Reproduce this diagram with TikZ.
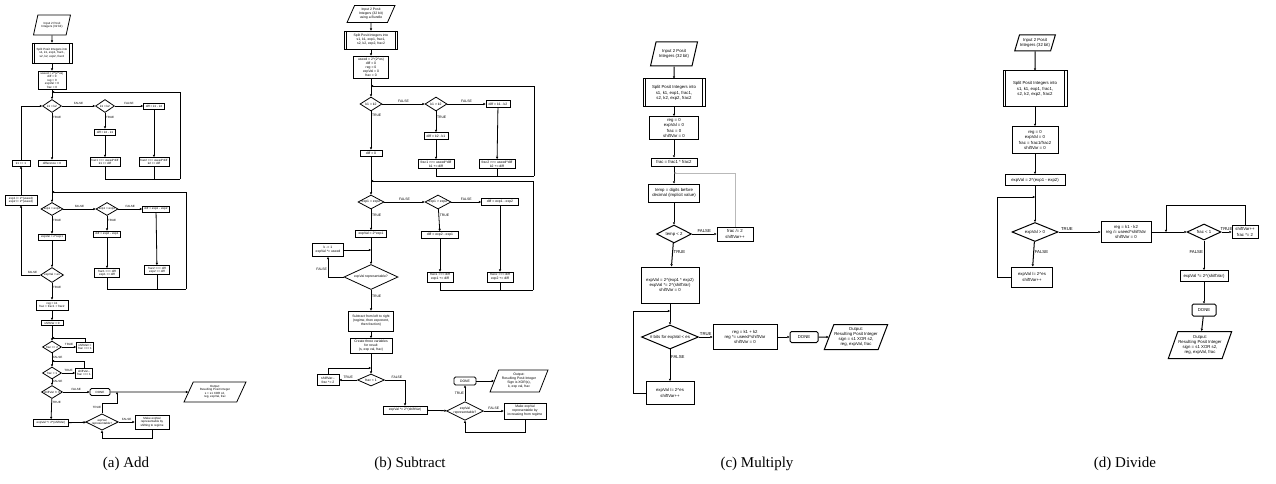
\documentclass[tikz,border=0pt]{standalone}
\usepackage{fontspec}
\setmainfont{Liberation Serif}
\newfontfamily\flowfont{Liberation Sans}[Ligatures=TeXOff]
\usetikzlibrary{
  shapes.geometric,
  arrows.meta,
  positioning
}
\newcommand{\pw}{\textasciicircum}
\tikzset{
  line/.style={draw},
  flow/.style={draw, -{Triangle[length=2.2pt,width=2.2pt]}},
  procbox/.style={draw, rectangle, align=center, inner sep=0.5pt},
  splitbox/.style={procbox, path picture={
      \draw ([xshift=2.2pt]path picture bounding box.north west) -- ([xshift=2.2pt]path picture bounding box.south west)
            ([xshift=-2.2pt]path picture bounding box.north east) -- ([xshift=-2.2pt]path picture bounding box.south east);}},
  decision/.style={draw, diamond, aspect=2, align=center, inner sep=0pt},
  iobox/.style={draw, trapezium, trapezium left angle=65, trapezium right angle=115,
    trapezium stretches=true, align=center, inner sep=0.5pt},
  donebox/.style={draw, rectangle, rounded corners=1.5pt, align=center, inner sep=0.5pt},
  tag/.style={inner sep=0.6pt},
  caption/.style={font=\fontsize{15}{18}\selectfont}
}

\begin{document}
\begin{tikzpicture}[x=1pt, y=-1pt]
\useasboundingbox (0,0) rectangle (1276,484);

% ---------------- Add ----------------
\begin{scope}[font=\flowfont\fontsize{3}{3.5}\selectfont, line width=0.8pt]
  \node[iobox, minimum width=37, minimum height=20] (aIn) at (52,25) {Input 2 Posit\\Integers (32 bit)};
  \node[splitbox, minimum width=40, minimum height=20] (aSplit) at (52,53) {Split Posit Integers into\\s1, k1, exp1, frac1,\\s2, k2, exp2, frac2};
  \node[procbox, minimum width=28, minimum height=18] (aInit) at (52,80) {useed = 2\pw(2\pw es)\\diff = 0\\reg = 0\\expVal = 0\\frac = 0};
  \coordinate (aM1) at (52,92);
  \node[decision, minimum width=19, minimum height=13] (aD1) at (52,106) {k1 = k2};
  \node[decision, minimum width=19, minimum height=13] (aD2) at (105,106) {k1 < k2};
  \node[procbox, minimum width=21, minimum height=6] (aB1) at (154,106) {diff = k1 - k2};
  \node[procbox, minimum width=21, minimum height=6] (aB2) at (105,132) {diff = k2 - k1};
  \node[procbox, minimum width=30, minimum height=9] (aB3) at (105,162) {frac1 >>= useed\pw diff\\k1 += diff};
  \node[procbox, minimum width=30, minimum height=9] (aB4) at (154,162) {frac2 >>= useed\pw diff\\k2 += diff};
  \node[procbox, minimum width=28, minimum height=6] (aB5) at (52,163) {difference = 0};
  \node[procbox, minimum width=18, minimum height=6] (aB6) at (21,163) {k1 += 1};
  \node[procbox, minimum width=32, minimum height=10] (aB12) at (21,200) {exp1 /= 2\pw(useed)\\exp2 /= 2\pw(useed)};
  \coordinate (aR1) at (180,179);

  \coordinate (aM2) at (52,192);
  \node[decision, minimum width=22, minimum height=13] (aD3) at (52,209) {exp1 = exp2};
  \node[decision, minimum width=22, minimum height=13] (aD4) at (107,209) {exp1 < exp2};
  \node[procbox, minimum width=27, minimum height=6] (aB7) at (156,209) {diff = exp1 - exp2};
  \node[procbox, minimum width=27, minimum height=6] (aB8) at (107,234) {diff = exp2 - exp1};
  \node[procbox, minimum width=25, minimum height=9] (aB9) at (107,273) {frac1 >>= diff\\exp1 += diff};
  \node[procbox, minimum width=25, minimum height=9] (aB10) at (157,270) {frac2 >>= diff\\exp2 += diff};
  \node[procbox, minimum width=27, minimum height=6] (aB11) at (52,237) {expVal = 2\pw exp1};
  \node[decision, minimum width=23, minimum height=15] (aD5) at (52,275) {expVal < es};
  \coordinate (aR2) at (186,289);

  \node[procbox, minimum width=32, minimum height=10] (aB13) at (52,305) {reg = k1\\frac = frac1 + frac2};
  \node[procbox, minimum width=22, minimum height=5] (aB14) at (52,323) {shiftVar = 0};
  \coordinate (aM3) at (52,338);
  \node[decision, minimum width=19, minimum height=12] (aD6) at (52,347) {frac >= 2};
  \node[procbox, minimum width=17, minimum height=10] (aB15) at (85,347) {shiftVar++\\frac >>= 1};
  \coordinate (aM4) at (52,361);
  \node[decision, minimum width=19, minimum height=12] (aD7) at (52,373) {frac < 1};
  \node[procbox, minimum width=17, minimum height=10] (aB16) at (84,373) {shiftVar--\\frac <<= 1};
  \node[decision, minimum width=21, minimum height=13] (aD8) at (52,392) {shiftVar != 0};
  \node[donebox, minimum width=20, minimum height=7] (aDone) at (100,392) {DONE};
  \node[iobox, minimum width=62, minimum height=20] (aOut) at (215,392) {Output:\\Resulting Posit Integer\\s = s1 XOR s2,\\reg, expVal, frac};
  \node[procbox, minimum width=35, minimum height=7] (aB17) at (51,423) {expVal *= 2\pw (shiftVar)};
  \node[decision, minimum width=28, minimum height=16] (aD9) at (102,422) {expVal\\representable?};
  \node[procbox, minimum width=34, minimum height=14] (aB18) at (152,422) {Make expVal\\representable by\\shifting to regime};
  \coordinate (aJ) at (117,392);
  \coordinate (aT) at (117,403);
  \coordinate (aL) at (102,438);

  \draw[flow] (aIn) -- (aSplit);
  \draw[flow] (aSplit) -- (aInit);
  \draw[flow] (aInit) -- (aD1);
  \draw[flow] (aD1) -- node[tag, above] {FALSE} (aD2);
  \draw[flow] (aD2) -- node[tag, above] {FALSE} (aB1);
  \draw[flow] (aD2) -- node[tag, right, pos=0.3] {TRUE} (aB2);
  \draw[flow] (aB2) -- (aB3);
  \draw[flow] (aB1) -- (aB4);
  \draw[flow] (aD1) -- node[tag, right, pos=0.1] {TRUE} (aB5);
  \draw[line] (aB3.south) |- (aR1);
  \draw[line] (aB4.south) -- (aB4.south |- aR1);
  \draw[flow] (aR1) |- (aM1);
  \draw[flow] (aB5) -- (aD3);
  \draw[flow] (aD3) -- node[tag, above] {FALSE} (aD4);
  \draw[flow] (aD4) -- node[tag, above] {FALSE} (aB7);
  \draw[flow] (aD4) -- node[tag, right, pos=0.3] {TRUE} (aB8);
  \draw[flow] (aB8) -- (aB9);
  \draw[flow] (aB7) -- (aB10);
  \draw[line] (aB9.south) |- (aR2);
  \draw[line] (aB10.south) -- (aB10.south |- aR2);
  \draw[flow] (aR2) |- (aM2);
  \draw[flow] (aD3) -- node[tag, right, pos=0.25] {TRUE} (aB11);
  \draw[flow] (aB11) -- (aD5);
  \draw[flow] (aD5.west) -| node[tag, above, pos=0.2] {FALSE} (aB12.south);
  \draw[flow] (aB12) -- (aB6);
  \draw[flow] (aB6.north) |- (aD1.west);
  \draw[flow] (aD5) -- node[tag, right, pos=0.3] {TRUE} (aB13);
  \draw[flow] (aB13) -- (aB14);
  \draw[flow] (aB14) -- (aD6);
  \draw[flow] (aD6) -- node[tag, above] {TRUE} (aB15);
  \draw[flow] (aB15.north) |- (aM3);
  \draw[flow] (aD6) -- node[tag, right, pos=0.3] {FALSE} (aD7);
  \draw[flow] (aD7) -- node[tag, above] {TRUE} (aB16);
  \draw[flow] (aB16.north) |- (aM4);
  \draw[flow] (aD7) -- node[tag, right, pos=0.3] {FALSE} (aD8);
  \draw[flow] (aD8) -- node[tag, above] {FALSE} (aDone);
  \draw[flow] (aDone) -- (aOut);
  \draw[flow] (aD8) -- node[tag, right, pos=0.2] {TRUE} (aB17);
  \draw[flow] (aB17) -- (aD9);
  \draw[flow] (aD9) -- node[tag, above] {FALSE} (aB18);
  \draw[flow] (aB18.south) |- (aL) -- (aD9.south);
  \draw[flow] (aD9.north) |- node[tag, left, pos=0.3] {TRUE} (aT) -- (aJ);
\end{scope}

% ---------------- Subtract ----------------
\begin{scope}[font=\flowfont\fontsize{3.4}{4}\selectfont, line width=0.8pt]
  \node[iobox, minimum width=48, minimum height=17] (bIn) at (371,14) {Input 2 Posit\\Integers (32 bit)\\using a Bundle};
  \node[splitbox, minimum width=53, minimum height=18] (bSplit) at (371,40) {Split Posit Integers into\\s1, k1, exp1, frac1,\\s2, k2, exp2, frac2};
  \node[procbox, minimum width=35, minimum height=22] (bInit) at (371,67) {useed = 2\pw(2\pw es)\\diff = 0\\reg = 0\\expVal = 0\\frac = 0};
  \coordinate (bM1) at (371,86);
  \node[decision, minimum width=22, minimum height=14] (bD1) at (371,104) {k1 = k2};
  \node[decision, minimum width=22, minimum height=14] (bD2) at (436,104) {k1 > k2};
  \node[procbox, minimum width=24, minimum height=7] (bB1) at (498,104) {diff = k1 - k2};
  \node[procbox, minimum width=24, minimum height=7] (bB2) at (436,136) {diff = k2 - k1};
  \node[procbox, minimum width=36, minimum height=9] (bB3) at (436,164) {frac1 >>= useed\pw diff\\k1 += diff};
  \node[procbox, minimum width=36, minimum height=9] (bB4) at (497,164) {frac2 >>= useed\pw diff\\k2 += diff};
  \node[procbox, minimum width=22, minimum height=6] (bB5) at (371,153) {diff = 0};
  \coordinate (bR1) at (534,176);

  \coordinate (bM2) at (371,181);
  \node[decision, minimum width=26, minimum height=14] (bD3) at (371,202) {exp1 = exp2};
  \node[decision, minimum width=26, minimum height=14] (bD4) at (438,202) {exp1 > exp2};
  \node[procbox, minimum width=37, minimum height=7] (bB6) at (500,202) {diff = exp1 - exp2};
  \node[procbox, minimum width=37, minimum height=7] (bB7) at (440,235) {diff = exp2 - exp1};
  \node[procbox, minimum width=26, minimum height=10] (bB8) at (440,277) {frac1 >>= diff\\exp1 += diff};
  \node[procbox, minimum width=26, minimum height=10] (bB9) at (500,277) {frac2 >>= diff\\exp2 += diff};
  \coordinate (bR2) at (533,290);

  \node[procbox, minimum width=31, minimum height=7] (bB10) at (371,234) {expVal = 2\pw exp1};
  \coordinate (bM3) at (371,250);
  \node[procbox, minimum width=31, minimum height=13] (bB11) at (328,250) {k -= 1\\expVal *= useed};
  \node[decision, minimum width=54, minimum height=25] (bD5) at (371,277) {expVal representable?};
  \node[procbox, minimum width=45, minimum height=20] (bB12) at (371,321) {Subtract from left to right\\(regime, then exponent,\\then fraction)};
  \node[procbox, minimum width=42, minimum height=15] (bB13) at (371,346) {Create three variables\\for result\\(s, exp val, frac)};
  \coordinate (bM4) at (371,368);
  \node[decision, minimum width=27, minimum height=12] (bD6) at (371,380) {frac < 1};
  \node[procbox, minimum width=22, minimum height=11] (bB14) at (328,380) {shiftVar--\\frac *= 2};
  \node[procbox, minimum width=44, minimum height=8] (bB15) at (405,410) {expVal *= 2\pw (shiftVar)};
  \node[decision, minimum width=32, minimum height=17] (bD7) at (465,411) {expVal\\representable?};
  \node[procbox, minimum width=42, minimum height=16] (bB16) at (525,411) {Make expVal\\representable by\\increasing from regime};
  \node[donebox, minimum width=22, minimum height=8] (bDone) at (465,381) {DONE};
  \node[iobox, minimum width=58, minimum height=22] (bOut) at (519,381) {Output:\\Resulting Posit Integer\\Sign is XOR(s),\\k, exp val, frac};
  \coordinate (bL) at (465,432);

  \draw[flow] (bIn) -- (bSplit);
  \draw[flow] (bSplit) -- (bInit);
  \draw[flow] (bInit) -- (bD1);
  \draw[flow] (bD1) -- node[tag, above] {FALSE} (bD2);
  \draw[flow] (bD2) -- node[tag, above] {FALSE} (bB1);
  \draw[flow] (bD2) -- node[tag, right, pos=0.3] {TRUE} (bB2);
  \draw[flow] (bB2) -- (bB3);
  \draw[flow] (bB1) -- (bB4);
  \draw[flow] (bD1) -- node[tag, right, pos=0.1] {TRUE} (bB5);
  \draw[line] (bB3.south) |- (bR1);
  \draw[line] (bB4.south) -- (bB4.south |- bR1);
  \draw[flow] (bR1) |- (bM1);
  \draw[flow] (bB5) -- (bD3);
  \draw[flow] (bD3) -- node[tag, above] {FALSE} (bD4);
  \draw[flow] (bD4) -- node[tag, above] {FALSE} (bB6);
  \draw[flow] (bD4) -- node[tag, right, pos=0.3] {TRUE} (bB7);
  \draw[flow] (bB7) -- (bB8);
  \draw[flow] (bB6) -- (bB9);
  \draw[line] (bB8.south) |- (bR2);
  \draw[line] (bB9.south) -- (bB9.south |- bR2);
  \draw[flow] (bR2) |- (bM2);
  \draw[flow] (bD3) -- node[tag, right, pos=0.3] {TRUE} (bB10);
  \draw[flow] (bB10) -- (bD5);
  \draw[flow] (bB11) -- (bM3);
  \draw[flow] (bD5.west) -| node[tag, left, pos=0.7] {FALSE} (bB11.south);
  \draw[flow] (bD5) -- node[tag, right, pos=0.3] {TRUE} (bB12);
  \draw[flow] (bB12) -- (bB13);
  \draw[flow] (bB13) -- (bD6);
  \draw[flow] (bD6) -- node[tag, above] {TRUE} (bB14);
  \draw[flow] (bB14.north) |- (bM4);
  \draw[flow] (bD6.east) -| node[tag, above, pos=0.3] {FALSE} (bB15.north);
  \draw[flow] (bB15) -- (bD7);
  \draw[flow] (bD7) -- node[tag, above] {FALSE} (bB16);
  \draw[flow] (bB16.south) |- (bL) -- (bD7.south);
  \draw[flow] (bD7) -- node[tag, left] {TRUE} (bDone);
  \draw[flow] (bDone) -- (bOut);
\end{scope}

% ---------------- Multiply ----------------
\begin{scope}[font=\flowfont\fontsize{4.3}{5.2}\selectfont, line width=1pt]
  \node[iobox, minimum width=47, minimum height=24] (cIn) at (674,54) {Input 2 Posit\\Integers (32 bit)};
  \node[splitbox, minimum width=62, minimum height=28] (cSplit) at (674,93) {Split Posit Integers into\\s1, k1, exp1, frac1,\\s2, k2, exp2, frac2};
  \node[procbox, minimum width=49, minimum height=23] (cInit) at (674,128) {reg = 0\\expVal = 0\\frac = 0\\shiftVar = 0};
  \node[procbox, minimum width=46, minimum height=8] (cFrac) at (674,162) {frac = frac1 * frac2};
  \coordinate (cM1) at (674,173);
  \node[procbox, minimum width=51, minimum height=18] (cTemp) at (674,193) {temp = digits before\\decimal (implicit value)};
  \node[decision, minimum width=35, minimum height=18] (cD1) at (674,234) {temp < 2};
  \node[procbox, minimum width=36, minimum height=14] (cB1) at (735,234) {frac /= 2\\shiftVar++};
  \node[procbox, minimum width=58, minimum height=36] (cB2) at (670,285) {expVal = 2\pw(exp1 * exp2)\\expVal *= 2\pw (shiftVar)\\shiftVar = 0};
  \coordinate (cM2) at (670,311);
  \node[decision, minimum width=57, minimum height=23] (cD2) at (670,337) {\# bits for expVal < es};
  \node[procbox, minimum width=64, minimum height=25] (cB3) at (745,337) {reg = k1 + k2\\reg *= useed\pw shiftVar\\shiftVar = 0};
  \node[donebox, minimum width=28, minimum height=11] (cDone) at (804,337) {DONE};
  \node[iobox, minimum width=60, minimum height=25] (cOut) at (856,337) {Output:\\Resulting Posit Integer\\sign = s1 XOR s2,\\reg, expVal, frac};
  \node[procbox, minimum width=48, minimum height=23] (cB4) at (670,393) {expVal /= 2\pw es\\shiftVar++};
  \coordinate (cL) at (633,393);

  \draw[flow] (cIn) -- (cSplit);
  \draw[flow] (cSplit) -- (cInit);
  \draw[flow] (cInit) -- (cFrac);
  \draw[flow] (cFrac) -- (cTemp);
  \draw[flow] (cTemp) -- (cD1);
  \draw[flow] (cD1) -- node[tag, above] {FALSE} (cB1);
  \draw[flow, gray!55, line width=0.6pt] (cB1.north) |- (cM1);
  \draw[flow] (cD1) -- node[tag, right, pos=0.4] {TRUE} (cB2);
  \draw[flow] (cB2) -- (cD2);
  \draw[flow] (cD2) -- node[tag, above] {TRUE} (cB3);
  \draw[flow] (cB3) -- (cDone);
  \draw[flow] (cDone) -- (cOut);
  \draw[flow] (cD2) -- node[tag, right, pos=0.25] {FALSE} (cB4);
  \draw[flow] (cB4.west) -- (cL) |- (cM2);
\end{scope}

% ---------------- Divide ----------------
\begin{scope}[font=\flowfont\fontsize{4.3}{5.2}\selectfont, line width=1pt]
  \node[iobox, minimum width=38, minimum height=16] (dIn) at (1035,43) {Input 2 Posit\\Integers (32 bit)};
  \node[splitbox, minimum width=64, minimum height=36] (dSplit) at (1035,89) {Split Posit Integers into\\s1, k1, exp1, frac1,\\s2, k2, exp2, frac2};
  \node[procbox, minimum width=46, minimum height=27] (dInit) at (1035,140) {reg = 0\\expVal = 0\\frac = frac1/frac2\\shiftVar = 0};
  \node[procbox, minimum width=60, minimum height=11] (dExp) at (1035,180) {expVal = 2\pw(exp1 - exp2)};
  \coordinate (dM1) at (1035,197);
  \node[decision, minimum width=46, minimum height=19] (dD1) at (1035,232) {expVal > 0};
  \node[procbox, minimum width=50, minimum height=21] (dB1) at (1126,232) {reg = k1 - k2\\reg /= useed\pw shiftVar\\shiftVar = 0};
  \coordinate (dM2) at (1166,232);
  \node[decision, minimum width=34, minimum height=16] (dD2) at (1204,232) {frac < 1};
  \node[procbox, minimum width=26, minimum height=13] (dB2) at (1245,232) {shiftVar++\\frac *= 2};
  \node[procbox, minimum width=48, minimum height=11] (dB3) at (1204,276) {expVal *= 2\pw(shiftVar)};
  \node[donebox, minimum width=24, minimum height=12] (dDone) at (1204,310) {DONE};
  \node[iobox, minimum width=58, minimum height=27] (dOut) at (1200,345) {Output:\\Resulting Posit Integer\\sign = s1 XOR s2,\\reg, expVal, frac};
  \node[procbox, minimum width=41, minimum height=20] (dB4) at (1032,277) {expVal /= 2\pw es\\shiftVar++};
  \coordinate (dL) at (997,277);
  \coordinate (dT) at (1166,205);

  \draw[flow] (dIn) -- (dSplit);
  \draw[flow] (dSplit) -- (dInit);
  \draw[flow] (dInit) -- (dExp);
  \draw[flow] (dExp) -- (dD1);
  \draw[flow] (dD1) -- node[tag, above, pos=0.2] {TRUE} (dB1);
  \draw[flow] (dB1) -- (dD2);
  \draw[flow] (dD2) -- node[tag, above] {TRUE} (dB2);
  \draw[flow] (dB2.north) |- (dT) -- (dM2);
  \draw[flow] (dD2) -- node[tag, left, pos=0.4] {FALSE} (dB3);
  \draw[flow] (dB3) -- (dDone);
  \draw[flow] (dDone) -- (dOut);
  \draw[flow] (dD1) -- node[tag, right, pos=0.4] {FALSE} (dB4);
  \draw[flow] (dB4.west) -- (dL) |- (dM1);
\end{scope}

% ---------------- captions ----------------
\node[caption] (capA) at (126,464) {(a) Add};
\node[caption] (capB) at (410,464) {(b) Subtract};
\node[caption] (capC) at (757,464) {(c) Multiply};
\node[caption] (capD) at (1125,464) {(d) Divide};
\end{tikzpicture}
\end{document}
